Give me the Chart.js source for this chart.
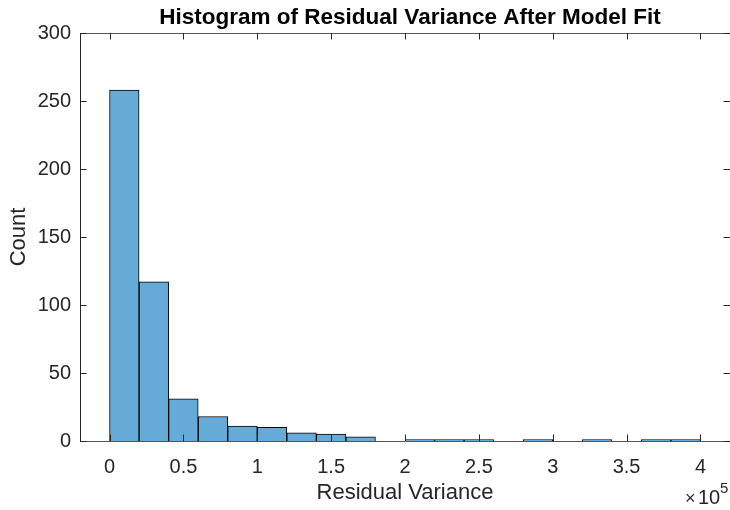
<!DOCTYPE html>
<html>
<head>
<meta charset="utf-8">
<script src="https://cdn.jsdelivr.net/npm/chart.js@4.4.1/dist/chart.umd.min.js"></script>
<style>
  html, body { margin: 0; padding: 0; background: #fff; }
  #wrap { width: 730px; height: 510px; }
</style>
</head>
<body>
<div id="wrap"><canvas id="chart" width="730" height="510"></canvas></div>
<script>
// histogram bins (left edges), width 0.2e5
const binStarts = [0, 20000, 40000, 60000, 80000, 100000, 120000, 140000, 160000, 180000,
  200000, 220000, 240000, 260000, 280000, 300000, 320000, 340000, 360000, 380000];
const binWidth = 20000;
const counts = [258, 117, 31, 18, 11, 10, 6, 5, 3, 0, 1, 1, 1, 0, 1, 0, 1, 0, 1, 1];
const xTicks = [0, 50000, 100000, 150000, 200000, 250000, 300000, 350000, 400000];
const yTicks = [0, 50, 100, 150, 200, 250, 300];

const axisColor = '#262626';
const fontFam = '"Liberation Sans", Arial, Helvetica, sans-serif';

const points = binStarts.map((s, i) => ({ x: s + binWidth / 2, y: counts[i] === 0 ? null : counts[i] }));

// MATLAB-ish box: top line, inward ticks on all sides, title, exponent label
const matlabBox = {
  id: 'matlabBox',
  afterDraw(chart) {
    const { ctx, chartArea: a, scales: { x, y } } = chart;
    const tl = 6.5;
    ctx.save();
    ctx.strokeStyle = '#555';
    ctx.lineWidth = 1;
    ctx.beginPath();
    ctx.moveTo(a.left, a.top + 0.5);
    ctx.lineTo(a.right, a.top + 0.5);
    ctx.stroke();

    ctx.strokeStyle = axisColor;
    ctx.beginPath();
    xTicks.forEach(v => {
      const px = Math.round(x.getPixelForValue(v)) + 0.5;
      ctx.moveTo(px, a.bottom);
      ctx.lineTo(px, a.bottom - tl);
      ctx.moveTo(px, a.top);
      ctx.lineTo(px, a.top + tl);
    });
    yTicks.forEach(v => {
      const py = Math.round(y.getPixelForValue(v)) + 0.5;
      ctx.moveTo(a.left, py);
      ctx.lineTo(a.left + tl, py);
      ctx.moveTo(a.right, py);
      ctx.lineTo(a.right - tl, py);
    });
    ctx.stroke();

    ctx.fillStyle = '#000';
    ctx.font = 'bold 22.5px ' + fontFam;
    ctx.textAlign = 'center';
    ctx.textBaseline = 'alphabetic';
    ctx.fillText('Histogram of Residual Variance After Model Fit', (a.left + a.right) / 2 + 5, 24);

    ctx.fillStyle = axisColor;
    ctx.textAlign = 'left';
    ctx.font = '18px ' + fontFam;
    ctx.fillText('\u00d7', 685, 504);
    ctx.font = '20px ' + fontFam;
    ctx.fillText('10', 698, 504);
    ctx.font = '15px ' + fontFam;
    ctx.fillText('5', 720, 493);
    ctx.restore();
  }
};

new Chart(document.getElementById('chart'), {
  type: 'bar',
  data: {
    datasets: [{
      data: points,
      backgroundColor: 'rgb(102,170,215)',
      borderColor: '#000',
      borderWidth: 1,
      borderSkipped: 'start',
      barPercentage: 1,
      categoryPercentage: 1
    }]
  },
  options: {
    responsive: false,
    animation: false,
    layout: { padding: { top: 33, right: 0, left: 0, bottom: 0 } },
    plugins: { legend: { display: false }, tooltip: { enabled: false }, title: { display: false } },
    scales: {
      x: {
        type: 'linear',
        offset: false,
        min: -20000,
        max: 420000,
        afterFit: s => { s.height = 69; },
        afterBuildTicks: s => { s.ticks = xTicks.map(v => ({ value: v })); },
        grid: { display: false, drawTicks: false },
        border: { display: true, color: '#555', width: 1 },
        ticks: {
          color: axisColor,
          font: { family: fontFam, size: 20 },
          padding: 14,
          maxRotation: 0,
          callback: v => String(v / 100000)
        },
        title: {
          display: true,
          text: 'Residual Variance',
          color: axisColor,
          font: { family: fontFam, size: 22 },
          padding: { top: 0, bottom: 4 }
        }
      },
      y: {
        min: 0,
        max: 300,
        afterFit: s => { s.width = 80; },
        afterBuildTicks: s => { s.ticks = yTicks.map(v => ({ value: v })); },
        grid: { display: false, drawTicks: false },
        border: { display: true, color: axisColor, width: 1 },
        ticks: {
          color: axisColor,
          font: { family: fontFam, size: 20 },
          padding: 9
        },
        title: {
          display: true,
          text: 'Count',
          color: axisColor,
          font: { family: fontFam, size: 22 },
          padding: { top: 6, bottom: 0 }
        }
      }
    }
  },
  plugins: [matlabBox]
});
</script>
</body>
</html>
